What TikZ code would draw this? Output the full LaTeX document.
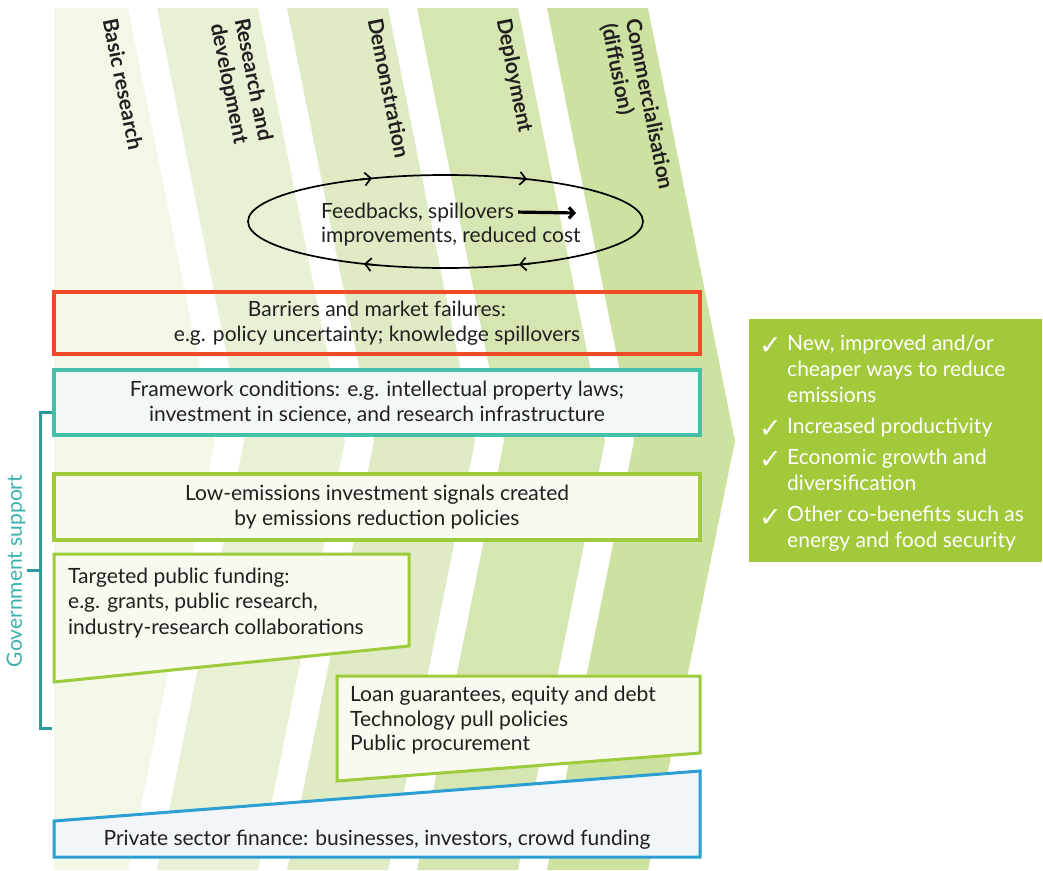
\documentclass[tikz,border=0pt]{standalone}
\usepackage{fontspec}
\setmainfont{Lato}
\newfontfamily\dvfont{DejaVu Sans}
\usetikzlibrary{arrows.meta,shapes.geometric}
\definecolor{bandA}{HTML}{F3F8E6}
\definecolor{bandB}{HTML}{E8F1D6}
\definecolor{bandC}{HTML}{DEEBC4}
\definecolor{bandD}{HTML}{D5E6B2}
\definecolor{bandE}{HTML}{CDE1A0}
\definecolor{redB}{HTML}{EE4B26}
\definecolor{tealB}{HTML}{45BFA8}
\definecolor{greenB}{HTML}{9DCB3B}
\definecolor{blueB}{HTML}{2B9FD3}
\definecolor{bracketC}{HTML}{2A9A9C}
\definecolor{govC}{HTML}{3BB2AA}
\definecolor{outC}{HTML}{A2C93A}
\definecolor{txt}{HTML}{231F20}
\definecolor{fillG}{HTML}{F8F9EF}
\definecolor{fillT}{HTML}{F3F8F6}
\definecolor{fillB}{HTML}{F2F5FA}
\tikzset{
  stage/.style={rotate=-78.7, anchor=north west, inner sep=0pt, align=left,
    font=\fontsize{21}{24.5}\selectfont\bfseries, text=txt},
  body/.style={inner sep=0pt, text=txt, font=\fontsize{21}{25}\selectfont},
  rectbox/.style={body, align=center, minimum width=646pt},
  loopar/.style={line width=1.7pt, -{Straight Barb[length=6pt,width=13pt]}},
  outtxt/.style={inner sep=0pt, text=white, align=left, font=\fontsize{21}{26}\selectfont},
  chk/.style={inner sep=0pt, text=white, font=\fontsize{27}{27}\selectfont\dvfont},
}
\begin{document}
\begin{tikzpicture}[x=1pt,y=-1pt]
\useasboundingbox (0,0) rectangle (1043,870);
% stage bands
\fill[bandA] (54,8) -- (128,8) -- (215,441) -- (128,870) -- (54,870) -- cycle;
\foreach \L/\c in {157/bandB,287/bandC,417/bandD,547/bandE}{
  \fill[\c] (\L,8) -- (\L+101,8) -- (\L+188,441) -- (\L+101,870) -- (\L,870) -- (\L+87,441) -- cycle;
}
% stage labels
\node[stage] (sBasic) at (118,17) {Basic research};
\node[stage] (sRD) at (250,17) {Research and\\development};
\node[stage] (sDemo) at (383,17) {Demonstration};
\node[stage] (sDepl) at (512,17) {Deployment};
\node[stage] (sComm) at (641,17) {Commercialisation\\(diffusion)};
% feedback loop
\node[draw=black, line width=1.7pt, ellipse, minimum width=395pt, minimum height=93pt, inner sep=0pt] (loop) at (445.5,221.5) {};
\draw[loopar] (360,179.5) -- (372,178.3);
\draw[loopar] (515,177.9) -- (527,179.1);
\draw[loopar] (376,265.1) -- (364,263.9);
\draw[loopar] (531,263.5) -- (519,264.7);
\node[body, anchor=base west] (fb1) at (321,218) {Feedbacks, spillovers};
\node[body, anchor=base west] (fb2) at (321,242) {improvements, reduced cost};
\coordinate (fbEnd) at (576,213);
\draw[line width=3.2pt, -{Straight Barb[length=5pt,width=11pt]}] ([xshift=4pt]fb1.east) -- (fbEnd);
% rectangular boxes
\node[rectbox, draw=redB, line width=4.5pt, minimum height=62pt] (barriers) at (377,323)
  {Barriers and market failures:\\e.g. policy uncertainty; knowledge spillovers};
\node[rectbox, draw=tealB, fill=fillT, line width=4pt, minimum height=65pt] (framework) at (377,402.5)
  {Framework conditions: e.g. intellectual property laws;\\investment in science, and research infrastructure};
\node[rectbox, draw=greenB, fill=fillG, line width=4pt, minimum height=66pt] (lowem) at (377,507)
  {Low-emissions investment signals created\\by emissions reduction policies};
% slanted boxes
\draw[draw=greenB, fill=fillG, line width=3pt] (54,554) -- (409,554) -- (409,646) -- (54,682) -- cycle;
\node[body, anchor=base west] (tpf1) at (68,583) {Targeted public funding:};
\node[body, anchor=base west] (tpf2) at (68,608) {e.g. grants, public research,};
\node[body, anchor=base west] (tpf3) at (68,634) {industry-research collaborations};
\draw[draw=greenB, fill=fillG, line width=3pt] (337,676) -- (700,676) -- (700,753) -- (337,781) -- cycle;
\node[body, anchor=base west] (loan1) at (350,701) {Loan guarantees, equity and debt};
\node[body, anchor=base west] (loan2) at (350,726) {Technology pull policies};
\node[body, anchor=base west] (loan3) at (350,750) {Public procurement};
\draw[draw=blueB, fill=fillB, line width=3pt] (54,821) -- (700,771) -- (700,857) -- (54,857) -- cycle;
\node[body, anchor=base] (priv) at (377,845) {Private sector finance: businesses, investors, crowd funding};
% government support bracket
\coordinate (brTop) at (52,412);
\coordinate (brBot) at (52,728);
\coordinate (brMidR) at (40,570);
\coordinate (brMidL) at (27,570);
\draw[bracketC, line width=3pt] (brTop) -- (40,412) -- (40,728) -- (brBot);
\draw[bracketC, line width=3pt] (brMidR) -- (brMidL);
\node[body, text=govC, rotate=90] (gov) at (16,571) {Government support};
% outcomes
\node[fill=outC, minimum width=293pt, minimum height=243pt, inner sep=0pt] (out) at (895.5,440.5) {};
\node[chk, anchor=base west] (c1) at (759,354) {✓};
\node[chk, anchor=base west] (c2) at (759,437) {✓};
\node[chk, anchor=base west] (c3) at (759,468) {✓};
\node[chk, anchor=base west] (c4) at (759,526) {✓};
\node[outtxt, anchor=base west] (o1) at (787,402) {New, improved and/or\\cheaper ways to reduce\\emissions};
\node[outtxt, anchor=base west] (o2) at (787,433) {Increased productivity};
\node[outtxt, anchor=base west] (o3) at (787,490) {Economic growth and\\diversification};
\node[outtxt, anchor=base west] (o4) at (787,547) {Other co-benefits such as\\energy and food security};
\end{tikzpicture}
\end{document}
